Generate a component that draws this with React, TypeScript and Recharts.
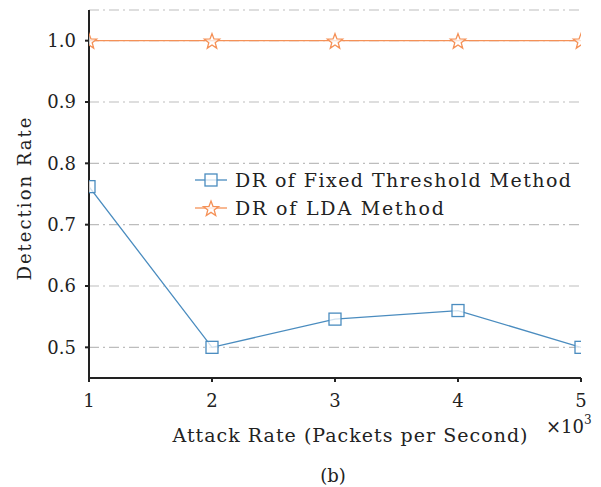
import React from "react";
import { LineChart, Line, XAxis, YAxis, CartesianGrid } from "recharts";

const attackRates = [1, 2, 3, 4, 5];
const fixedThresholdDR = [0.762, 0.5, 0.546, 0.56, 0.5];
const ldaDR = [1.0, 1.0, 1.0, 1.0, 1.0];
const yTicks = [0.5, 0.6, 0.7, 0.8, 0.9, 1.0];
const xTicks = [1, 2, 3, 4, 5];
const seriesNames = ["DR of Fixed Threshold Method", "DR of LDA Method"];

const data = attackRates.map((x, i) => ({ x, fixed: fixedThresholdDR[i], lda: ldaDR[i] }));

const BLUE = "#4a8cbf";
const ORANGE = "#f59157";
const TEXT = "#222";
const FONT = "'DejaVu Serif', serif";
const MARKER_FILL = "rgba(255,255,255,0.75)";

const starPath = (cx: number, cy: number, R: number) => {
  const r = R * 0.42;
  let d = "";
  for (let i = 0; i < 10; i++) {
    const rad = i % 2 === 0 ? R : r;
    const a = -Math.PI / 2 + (i * Math.PI) / 5;
    d += (i === 0 ? "M" : "L") + (cx + rad * Math.cos(a)).toFixed(2) + "," + (cy + rad * Math.sin(a)).toFixed(2);
  }
  return d + "Z";
};

const SquareDot = (props: any) => {
  const { cx, cy } = props;
  if (cx == null || cy == null) return null;
  return <rect x={cx - 6} y={cy - 6} width={12} height={12} fill={MARKER_FILL} stroke={BLUE} strokeWidth={1.3} />;
};
const StarDot = (props: any) => {
  const { cx, cy } = props;
  if (cx == null || cy == null) return null;
  return <path d={starPath(cx, cy + 1, 8)} fill={MARKER_FILL} stroke={ORANGE} strokeWidth={1.3} />;
};

export default function App() {
  return (
    <div style={{ position: "absolute", left: 0, top: 0, width: 601, height: 487, background: "white" }}>
      <LineChart width={601} height={487} data={data} margin={{ top: 10, right: 20, bottom: 0, left: 0 }}>
        <CartesianGrid vertical={false} stroke="#bdbdbd" strokeDasharray="10 4 2 4" strokeWidth={1.2} />
        <XAxis
          dataKey="x"
          type="number"
          domain={[1, 5]}
          ticks={xTicks}
          allowDataOverflow
          tickSize={4}
          tickMargin={12}
          stroke={TEXT}
          strokeWidth={2}
          tick={{ fill: TEXT, fontFamily: FONT, fontSize: 18 }}
          height={109}
        />
        <XAxis xAxisId="top" dataKey="x" type="number" domain={[1, 5]} orientation="top" tick={false} tickLine={false} height={0} stroke={TEXT} strokeWidth={2} />
        <YAxis
          type="number"
          domain={[0.45, 1.05]}
          ticks={yTicks}
          allowDataOverflow
          tickFormatter={(v: number) => v.toFixed(1)}
          tickSize={4}
          tickMargin={9}
          stroke={TEXT}
          strokeWidth={2}
          width={89}
          tick={{ fill: TEXT, fontFamily: FONT, fontSize: 18 }}
        />
        <YAxis yAxisId="right" orientation="right" domain={[0.45, 1.05]} tick={false} tickLine={false} width={0} stroke={TEXT} strokeWidth={2} />
        <Line dataKey="lda" stroke={ORANGE} strokeWidth={1.3} dot={<StarDot />} isAnimationActive={false} />
        <Line dataKey="fixed" stroke={BLUE} strokeWidth={1.3} dot={<SquareDot />} isAnimationActive={false} />
        <g>
          <line x1={195} y1={180} x2={227} y2={180} stroke={BLUE} strokeWidth={1.3} />
          <rect x={205} y={174} width={12} height={12} fill={MARKER_FILL} stroke={BLUE} strokeWidth={1.3} />
          <text x={235} y={180} dominantBaseline="central" fontFamily={FONT} fontSize={19} fill={TEXT} textLength={336} lengthAdjust="spacing">
            {seriesNames[0]}
          </text>
          <line x1={195} y1={208} x2={227} y2={208} stroke={ORANGE} strokeWidth={1.3} />
          <path d={starPath(211, 209, 8)} fill={MARKER_FILL} stroke={ORANGE} strokeWidth={1.3} />
          <text x={235} y={208} dominantBaseline="central" fontFamily={FONT} fontSize={19} fill={TEXT} textLength={209} lengthAdjust="spacing">
            {seriesNames[1]}
          </text>
        </g>
        <text x={24} y={199} transform="rotate(-90 24 199)" textAnchor="middle" dominantBaseline="central" fontFamily={FONT} fontSize={18} fill={TEXT} textLength={163} lengthAdjust="spacing">
          Detection Rate
        </text>
        <text x={350} y={435} textAnchor="middle" dominantBaseline="central" fontFamily={FONT} fontSize={19} fill={TEXT} textLength={355} lengthAdjust="spacing">
          Attack Rate (Packets per Second)
        </text>
        <text x={546} y={433} fontFamily={FONT} fontSize={18} fill={TEXT}>
          ×10<tspan fontSize={12} dy={-9}>3</tspan>
        </text>
        <text x={333} y={475} textAnchor="middle" dominantBaseline="central" fontFamily={FONT} fontSize={18} fill={TEXT}>
          (b)
        </text>
      </LineChart>
    </div>
  );
}
